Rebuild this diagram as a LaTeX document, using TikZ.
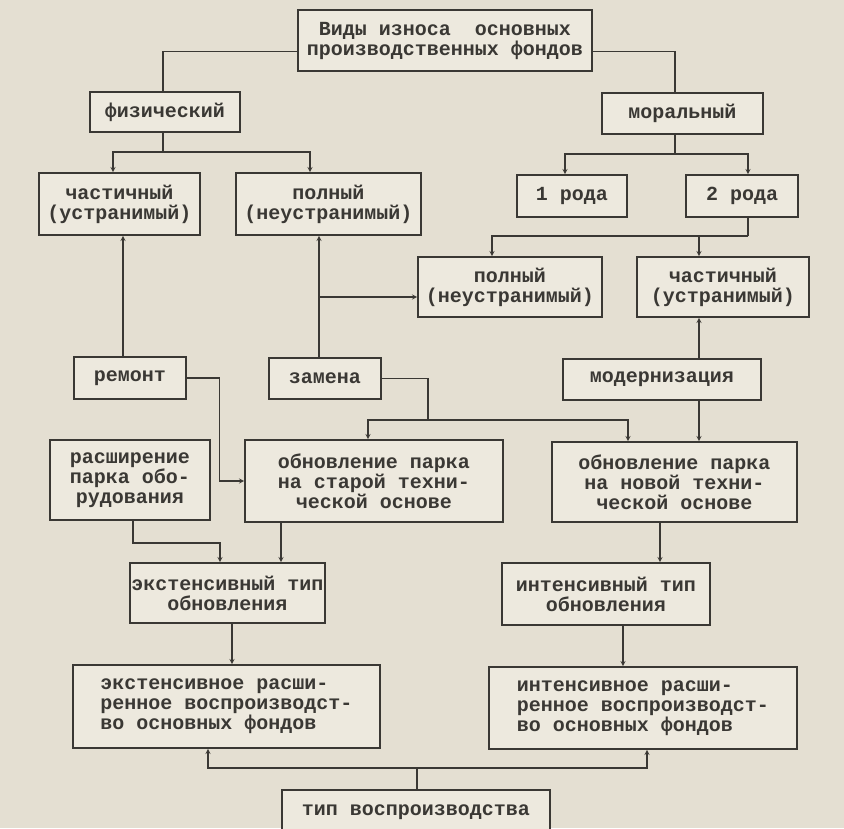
\documentclass[tikz,border=0pt]{standalone}
\usepackage{fontspec}
\setmonofont{Liberation Mono}
\usepackage{tikz}
\usetikzlibrary{arrows, calc}

\definecolor{paper}{HTML}{E4DFD2}
\definecolor{boxfill}{HTML}{EDE9DE}
\definecolor{ink}{HTML}{3A3834}

\begin{document}
\begin{tikzpicture}[
            x = 1pt, y = -1pt, % scan pixels, y pointing down
            > = stealth, % arrow head style
            line width = 1.3pt, % line style
            draw = ink
        ]

        \tikzstyle{box}=[
            draw = ink,
            line width = 1.6pt,
            fill = boxfill,
            text = ink,
            font = \ttfamily\bfseries\fontsize{20}{20}\selectfont,
            align = center,
            inner sep = 1pt
        ]

        \useasboundingbox (0,0) rectangle (844,828);
        \fill[paper] (0,0) rectangle (844,828);

        \node[box, minimum width=294pt, minimum height=61pt] (vidy) at (445,40.5) {Виды износа\ \ основных\\производственных фондов};
        \node[box, minimum width=150pt, minimum height=40pt] (fiz) at (165,112) {физический};
        \node[box, minimum width=161pt, minimum height=41pt] (moral) at (682.5,113.5) {моральный};
        \node[box, minimum width=161pt, minimum height=62pt] (chast1) at (119.5,204) {частичный\\(устранимый)};
        \node[box, minimum width=185pt, minimum height=62pt] (poln1) at (328.5,204) {полный\\(неустранимый)};
        \node[box, minimum width=110pt, minimum height=42pt] (rod1) at (572,196) {1 рода};
        \node[box, minimum width=112pt, minimum height=42pt] (rod2) at (742,196) {2 рода};
        \node[box, minimum width=184pt, minimum height=60pt] (poln2) at (510,287) {полный\\(неустранимый)};
        \node[box, minimum width=172pt, minimum height=60pt] (chast2) at (723,287) {частичный\\(устранимый)};
        \node[box, minimum width=112pt, minimum height=42pt] (remont) at (130,378) {ремонт};
        \node[box, minimum width=112pt, minimum height=41pt] (zamena) at (325,378.5) {замена};
        \node[box, minimum width=198pt, minimum height=41pt] (modern) at (662,379.5) {модернизация};
        \node[box, minimum width=160pt, minimum height=80pt] (rassh) at (130,480) {расширение\\парка обо-\\рудования};
        \node[box, minimum width=258pt, minimum height=82pt] (obnstar) at (374,481) {обновление парка\\на старой техни-\\ческой основе};
        \node[box, minimum width=245pt, minimum height=80pt] (obnnov) at (674.5,482) {обновление парка\\на новой техни-\\ческой основе};
        \node[box, minimum width=195pt, minimum height=60pt] (ekstip) at (227.5,593) {экстенсивный тип\\обновления};
        \node[box, minimum width=208pt, minimum height=62pt] (intip) at (606,594) {интенсивный тип\\обновления};
        \node[box, minimum width=307pt, minimum height=83pt, align=left] (ekstrash) at (226.5,706.5) {экстенсивное расши-\\ренное воспроизводст-\\во основных фондов};
        \node[box, minimum width=308pt, minimum height=82pt, align=left] (intrash) at (643,708) {интенсивное расши-\\ренное воспроизводст-\\во основных фондов};
        \node[box, minimum width=268pt, minimum height=44pt] (tip) at (416,812) {тип воспроизводства};

        % split points
        \coordinate (fizj) at (163,152);
        \coordinate (morj) at (675,154);
        \coordinate (rodj) at (748,236);
        \coordinate (zamj) at (319,297);
        \coordinate (zamk) at (428,420);
        \coordinate (rasj) at (220,543);
        \coordinate (tipj) at (417,768);

        \draw ([yshift=-11pt]vidy.west) -| ($(fiz.north)+(-2,0)$);
        \draw ([yshift=-11pt]vidy.east) -| ($(moral.north)+(-7.5,0)$);

        \draw ($(fiz.south)+(-2,0)$) -- (fizj);
        \draw[->] (fizj) -| ($(chast1.north)+(-6.5,0)$);
        \draw[->] (fizj) -| ($(poln1.north)+(-18.5,0)$);

        \draw ($(moral.south)+(-7.5,0)$) -- (morj);
        \draw[->] (morj) -| ($(rod1.north)+(-7,0)$);
        \draw[->] (morj) -| ($(rod2.north)+(6,0)$);

        \draw ($(rod2.south)+(6,0)$) -- (rodj);
        \draw[->] (rodj) -| ($(poln2.north)+(-18,0)$);
        \draw[->] (rodj) -| ($(chast2.north)+(-24,0)$);

        \draw[->] ($(remont.north)+(-7,0)$) -- ($(chast1.south)+(3.5,0)$);
        \draw[->] ($(zamena.north)+(-6,0)$) -- ($(poln1.south)+(-9.5,0)$);
        \draw[->] (zamj) -- ($(poln2.west)+(0,10)$);
        \draw[->] ($(modern.north)+(37,0)$) -- ($(chast2.south)+(-24,0)$);

        \draw[->] (remont.east) -| ($(obnstar.west)+(-25,0)$) -- (obnstar.west);
        \draw (zamena.east) -| (zamk);
        \draw[->] (zamk) -| ($(obnstar.north)+(-6,0)$);
        \draw[->] (zamk) -| ($(obnnov.north)+(-46.5,0)$);
        \draw[->] ($(modern.south)+(37,0)$) -- ($(obnnov.north)+(24.5,0)$);

        \draw[->] ($(rassh.south)+(3,0)$) |- (rasj) -- ($(ekstip.north)+(-7.5,0)$);
        \draw[->] ($(obnstar.south)+(-93,0)$) -- ($(ekstip.north)+(53.5,0)$);
        \draw[->] ($(obnnov.south)+(-14.5,0)$) -- ($(intip.north)+(54,0)$);

        \draw[->] ($(ekstip.south)+(4.5,0)$) -- ($(ekstrash.north)+(5.5,0)$);
        \draw[->] ($(intip.south)+(17,0)$) -- ($(intrash.north)+(-20,0)$);

        \draw ($(tip.north)+(1,0)$) -- (tipj);
        \draw[->] (tipj) -| ($(ekstrash.south)+(-18.5,0)$);
        \draw[->] (tipj) -| ($(intrash.south)+(4,0)$);

    \end{tikzpicture}
\end{document}
